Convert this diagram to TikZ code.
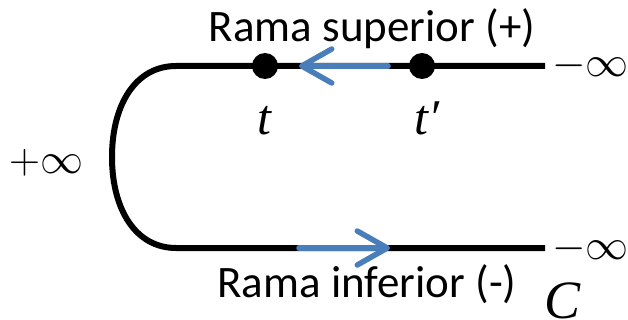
\documentclass[tikz,border=0pt]{standalone}
\usepackage{fix-cm}
\usepackage[no-math]{fontspec}
\setmainfont{Carlito}
\newfontfamily\symfont{Liberation Serif}
\usetikzlibrary{arrows.meta}
\definecolor{arrowblue}{HTML}{4A7EBB}
\tikzset{
  contour/.style={line width=6pt, black},
  flow/.style={line width=5.5pt, arrowblue, line cap=round,
    -{Straight Barb[length=30pt,width=34pt,round]}},
  event/.style={circle, fill=black, minimum size=26pt, inner sep=0pt},
  branchlabel/.style={font=\fontsize{45}{50}\selectfont, anchor=base, inner sep=0pt},
  mathlabel/.style={font=\symfont\fontsize{50}{56}\selectfont, inner sep=0pt},
  inflabel/.style={font=\fontsize{43}{48}\selectfont, inner sep=0pt}
}
\begin{document}
\begin{tikzpicture}[x=1pt,y=-1pt]
\useasboundingbox (0,0) rectangle (628,320);
% contour
\coordinate (uR) at (545,66);
\coordinate (uL) at (176,66);
\coordinate (lL) at (176,248);
\coordinate (lR) at (545,248);
\coordinate (mid) at (112,157);
\draw[contour] (uR) -- (uL) .. controls (136,66) and (112,104) .. (mid)
  .. controls (112,210) and (136,248) .. (lL) -- (lR);
% events
\node[event] (t) at (265,66) {};
\node[event] (tp) at (422,66) {};
% arrows
\coordinate (a1s) at (388,66);
\coordinate (a1e) at (299,66);
\coordinate (a2s) at (299,248);
\coordinate (a2e) at (390,248);
\draw[flow] (a1s) -- (a1e);
\draw[flow] (a2s) -- (a2e);
% labels
\node[branchlabel] (sup) at (372,42) {Rama superior (+)};
\node[branchlabel] (inf) at (367,297) {Rama inferior (-)};
\node[mathlabel, anchor=base] (tl) at (264,135) {\itshape t};
\node[mathlabel, anchor=base] (tpl) at (427,135) {\itshape t′};
\node[inflabel, anchor=base west] (minf1) at (552,77) {$-\infty$};
\node[inflabel, anchor=base west] (minf2) at (552,259) {$-\infty$};
\node[inflabel, anchor=base west] (pinf) at (9,174) {$+\infty$};
\node[mathlabel, font=\symfont\fontsize{54}{60}\selectfont\itshape, anchor=base west] (C) at (544,318) {C};
\end{tikzpicture}
\end{document}
